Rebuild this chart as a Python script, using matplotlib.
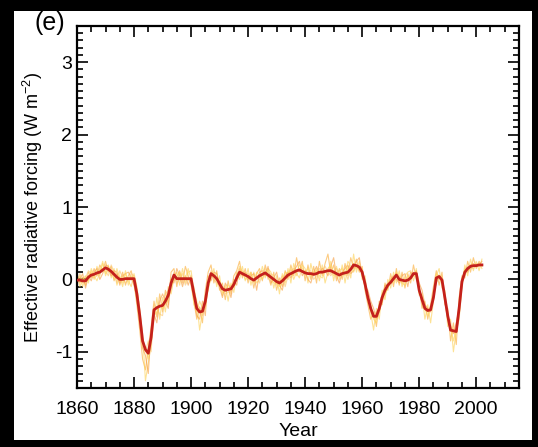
import matplotlib
matplotlib.use("Agg")
import matplotlib.pyplot as plt
import numpy as np
from matplotlib.patches import Rectangle

plt.rcParams['font.family'] = ['Liberation Sans', 'DejaVu Sans']
plt.rcParams['mathtext.default'] = 'regular'

years = list(range(1860, 2003))

ensemble_mean = [
    -0.01, -0.01, -0.02, -0.02, 0.03, 0.06, 0.07, 0.09, 0.10, 0.13,
    0.16, 0.14, 0.11, 0.07, 0.03, 0.00, 0.00, 0.01, 0.01, 0.01,
    0.01, -0.20, -0.50, -0.85, -0.97, -1.02, -0.80, -0.42, -0.39, -0.37,
    -0.36, -0.30, -0.22, -0.05, 0.06, 0.01, 0.01, 0.01, 0.01, 0.01,
    0.01, -0.20, -0.40, -0.45, -0.44, -0.30, -0.05, 0.08, 0.05, 0.01,
    -0.06, -0.13, -0.15, -0.14, -0.13, -0.07, 0.02, 0.10, 0.08, 0.06,
    0.04, 0.01, -0.01, 0.02, 0.05, 0.07, 0.09, 0.06, 0.03, 0.00,
    -0.03, -0.05, -0.02, 0.02, 0.06, 0.08, 0.10, 0.12, 0.13, 0.11,
    0.09, 0.08, 0.08, 0.07, 0.08, 0.10, 0.10, 0.11, 0.12, 0.12,
    0.10, 0.08, 0.06, 0.08, 0.09, 0.10, 0.14, 0.20, 0.19, 0.17,
    0.10, -0.06, -0.25, -0.40, -0.51, -0.51, -0.40, -0.25, -0.15, -0.08,
    -0.04, 0.01, 0.06, 0.00, -0.01, -0.02, -0.01, 0.02, 0.08, 0.08,
    -0.15, -0.28, -0.40, -0.43, -0.42, -0.25, 0.02, 0.04, -0.01, -0.25,
    -0.50, -0.70, -0.71, -0.72, -0.40, -0.03, 0.10, 0.15, 0.18, 0.19,
    0.19, 0.20, 0.20,
]

member_a = [
    0.02, -0.05, 0.03, -0.08, 0.10, 0.02, 0.15, 0.05, 0.20, 0.12,
    0.25, 0.10, 0.18, -0.02, 0.08, -0.05, 0.10, -0.08, 0.05, 0.12,
    -0.05, -0.35, -0.70, -1.10, -1.25, -0.95, -0.65, -0.30, -0.52, -0.20,
    -0.45, -0.15, -0.35, 0.10, 0.15, -0.10, 0.12, -0.05, 0.18, 0.05,
    -0.08, -0.30, -0.55, -0.38, -0.60, -0.15, 0.10, 0.20, -0.05, 0.12,
    -0.15, -0.05, -0.28, -0.02, -0.20, 0.05, 0.12, 0.25, 0.02, 0.15,
    -0.05, 0.10, -0.12, 0.08, 0.15, -0.02, 0.20, 0.05, -0.08, 0.10,
    -0.15, 0.02, -0.10, 0.12, 0.00, 0.20, 0.05, 0.30, 0.10, 0.25,
    -0.02, 0.20, 0.00, 0.18, -0.05, 0.25, 0.05, 0.22, 0.35, 0.08,
    0.20, -0.02, 0.15, 0.00, 0.22, 0.05, 0.30, 0.15, 0.28, 0.10,
    0.18, -0.15, -0.35, -0.55, -0.45, -0.65, -0.30, -0.35, -0.05, -0.15,
    0.08, -0.10, 0.15, -0.08, 0.10, -0.12, 0.08, -0.05, 0.20, 0.00,
    -0.10, -0.40, -0.30, -0.55, -0.35, -0.10, 0.12, -0.08, 0.10, -0.35,
    -0.40, -0.85, -0.60, -0.90, -0.25, 0.05, 0.02, 0.25, 0.10, 0.30,
    0.15, 0.25, 0.18,
]

member_b = [
    -0.06, 0.05, -0.10, 0.04, -0.02, 0.12, 0.00, 0.18, 0.05, 0.22,
    0.08, 0.20, 0.02, 0.15, -0.08, 0.05, -0.10, 0.08, -0.02, -0.10,
    0.08, -0.10, -0.45, -0.75, -1.40, -1.15, -0.90, -0.55, -0.25, -0.55,
    -0.25, -0.45, -0.10, -0.20, 0.02, 0.10, -0.08, 0.15, -0.05, 0.10,
    0.12, -0.15, -0.30, -0.70, -0.45, -0.40, -0.12, 0.02, 0.15, -0.10,
    0.05, -0.22, -0.08, -0.30, -0.05, -0.18, 0.08, 0.00, 0.18, -0.02,
    0.15, -0.08, 0.10, -0.05, 0.00, 0.18, 0.02, 0.15, 0.10, -0.12,
    0.05, -0.20, 0.08, -0.05, 0.15, -0.05, 0.22, 0.08, 0.02, 0.20,
    0.15, -0.05, 0.22, 0.05, 0.15, -0.02, 0.20, -0.05, 0.10, 0.25,
    -0.02, 0.18, 0.00, 0.20, -0.05, 0.18, 0.02, 0.35, 0.10, 0.25,
    0.00, 0.05, -0.30, -0.45, -0.70, -0.40, -0.55, -0.15, -0.28, 0.00,
    -0.12, 0.10, -0.05, 0.12, -0.10, 0.05, 0.10, 0.12, -0.02, 0.15,
    -0.22, -0.20, -0.55, -0.35, -0.60, -0.30, 0.05, 0.15, -0.12, -0.15,
    -0.65, -0.55, -1.00, -0.70, -0.55, -0.10, 0.20, 0.05, 0.28, 0.12,
    0.25, 0.12, 0.28,
]

member_c = [
    0.05, 0.00, 0.08, -0.12, 0.05, -0.02, 0.10, 0.15, 0.00, 0.08,
    0.20, 0.18, 0.05, 0.12, 0.10, -0.08, 0.05, 0.08, 0.10, 0.02,
    -0.08, -0.25, -0.60, -0.95, -1.05, -1.30, -0.70, -0.48, -0.60, -0.30,
    -0.20, -0.30, -0.40, 0.00, -0.05, 0.15, 0.05, -0.10, 0.05, -0.08,
    0.05, -0.25, -0.50, -0.55, -0.30, -0.50, 0.05, -0.02, 0.10, 0.08,
    -0.10, -0.25, -0.05, -0.12, -0.25, 0.00, -0.08, 0.15, 0.05, 0.10,
    0.00, 0.05, 0.08, -0.15, 0.10, 0.12, 0.05, 0.18, -0.05, 0.02,
    0.10, -0.08, -0.15, 0.05, 0.10, 0.02, 0.12, 0.18, 0.25, 0.05,
    0.12, 0.00, -0.05, 0.10, 0.18, 0.08, 0.15, 0.12, 0.05, 0.18,
    0.30, 0.05, -0.05, 0.10, 0.15, 0.20, 0.08, 0.12, 0.25, 0.30,
    0.05, -0.10, -0.15, -0.30, -0.40, -0.55, -0.45, -0.30, -0.08, -0.10,
    0.00, 0.05, 0.00, -0.05, 0.05, 0.08, -0.10, 0.10, 0.05, 0.12,
    -0.05, -0.15, -0.35, -0.40, -0.45, -0.20, -0.05, 0.05, 0.00, -0.30,
    -0.55, -0.70, -0.75, -0.60, -0.40, 0.00, 0.12, 0.10, 0.20, 0.22,
    0.18, 0.20, 0.25,
]

member_d = [
    -0.02, 0.08, -0.05, 0.02, 0.12, 0.08, 0.02, 0.05, 0.15, 0.10,
    0.12, 0.05, 0.20, 0.10, -0.05, 0.12, 0.02, -0.05, 0.00, 0.08,
    0.05, -0.15, -0.40, -0.80, -1.00, -0.85, -1.00, -0.35, -0.40, -0.48,
    -0.50, -0.20, -0.15, -0.15, 0.10, -0.05, 0.00, 0.08, -0.08, 0.00,
    -0.05, -0.10, -0.35, -0.40, -0.50, -0.35, -0.05, 0.12, 0.00, -0.05,
    -0.08, -0.10, -0.20, -0.18, -0.08, -0.12, 0.10, 0.05, 0.12, 0.08,
    0.08, 0.00, -0.02, 0.05, -0.05, 0.08, 0.15, 0.00, 0.08, 0.05,
    -0.08, -0.02, 0.05, -0.10, 0.05, 0.12, 0.15, 0.05, 0.15, 0.12,
    0.05, 0.10, 0.12, 0.00, 0.05, 0.15, 0.12, 0.18, 0.10, 0.05,
    0.12, 0.15, 0.10, 0.05, 0.12, 0.00, 0.15, 0.22, 0.15, 0.18,
    0.12, -0.05, -0.20, -0.40, -0.50, -0.45, -0.40, -0.20, -0.12, -0.05,
    -0.05, 0.00, 0.08, 0.05, -0.05, 0.02, 0.00, 0.05, 0.10, 0.05,
    -0.12, -0.30, -0.42, -0.45, -0.40, -0.28, 0.00, 0.00, 0.05, -0.20,
    -0.45, -0.72, -0.68, -0.75, -0.50, -0.08, 0.08, 0.18, 0.15, 0.15,
    0.22, 0.18, 0.20,
]

member_e = [
    0.08, -0.10, 0.00, 0.05, -0.05, 0.15, 0.05, -0.02, 0.10, 0.25,
    0.05, 0.15, 0.12, 0.00, 0.15, 0.02, -0.05, 0.12, -0.08, 0.05,
    0.00, -0.30, -0.55, -0.90, -0.95, -1.10, -0.75, -0.50, -0.45, -0.35,
    -0.40, -0.35, -0.25, -0.10, 0.00, 0.05, 0.10, 0.00, 0.02, 0.15,
    0.00, -0.35, -0.45, -0.30, -0.40, -0.25, -0.15, 0.05, 0.08, 0.02,
    -0.02, -0.18, -0.15, -0.08, -0.12, -0.10, 0.05, 0.18, 0.10, 0.00,
    0.02, 0.10, -0.05, 0.10, 0.05, 0.00, 0.10, 0.12, 0.02, -0.05,
    -0.05, -0.10, 0.00, 0.10, 0.08, 0.15, 0.00, 0.10, 0.20, 0.15,
    0.10, 0.15, 0.05, 0.08, 0.12, 0.05, 0.02, 0.10, 0.15, 0.20,
    0.05, 0.10, 0.12, 0.15, 0.05, 0.25, 0.18, 0.10, 0.20, 0.12,
    0.15, -0.10, -0.25, -0.35, -0.55, -0.60, -0.35, -0.30, -0.20, -0.12,
    0.02, -0.05, 0.10, 0.00, -0.05, -0.08, 0.05, 0.00, 0.05, 0.10,
    -0.18, -0.25, -0.40, -0.50, -0.38, -0.22, 0.08, 0.05, -0.05, -0.25,
    -0.50, -0.65, -0.85, -0.68, -0.35, -0.05, 0.15, 0.12, 0.18, 0.20,
    0.20, 0.22, 0.15,
]

members = [member_a, member_b, member_c, member_d, member_e]
member_colors = ['#FBB040', '#FDD35C', '#F7A24A', '#FCC873', '#FFD560']

x_major = [1860, 1880, 1900, 1920, 1940, 1960, 1980, 2000]
y_major = [-1, 0, 1, 2, 3]

fig = plt.figure(figsize=(5.38, 4.47), dpi=100, facecolor='black')
fig.add_artist(Rectangle((14/538, 1-440/447), 518/538, 429/447,
                         transform=fig.transFigure, facecolor='white',
                         edgecolor='none', zorder=-10))

ax = fig.add_axes([77/538, 1-388/447, 442/538, 362/447])
ax.set_zorder(1)
ax.set_facecolor('white')

for m, c in zip(members, member_colors):
    ax.plot(years, m, color=c, lw=0.8, alpha=0.65, zorder=2)
ax.plot(years, ensemble_mean, color='#C4201B', lw=2.0, zorder=3,
        solid_joinstyle='round')

ax.set_xlim(1860, 2015)
ax.set_ylim(-1.5, 3.5)
ax.set_xticks(x_major)
ax.set_xticks(np.arange(1860, 2016, 5), minor=True)
ax.set_yticks(y_major)
ax.set_yticks(np.arange(-1.5, 3.51, 0.1), minor=True)
ax.set_yticklabels([str(v) for v in y_major])

ax.tick_params(which='both', direction='in', top=True, right=True,
               width=1.2, labelsize=14, colors='black')
ax.tick_params(which='major', length=8)
ax.tick_params(which='minor', length=4)
ax.tick_params(axis='x', pad=9)
for s in ax.spines.values():
    s.set_linewidth(1.6)

ax.set_xlabel('Year', fontsize=14, labelpad=4)
ax.set_ylabel('Effective radiative forcing (W m$^{-2}$)', fontsize=13, labelpad=7)

fig.text(50/538, 1-23/447, '(e)', fontsize=18, ha='center', va='center')

fig.savefig('out.png', dpi=100, facecolor='black')
